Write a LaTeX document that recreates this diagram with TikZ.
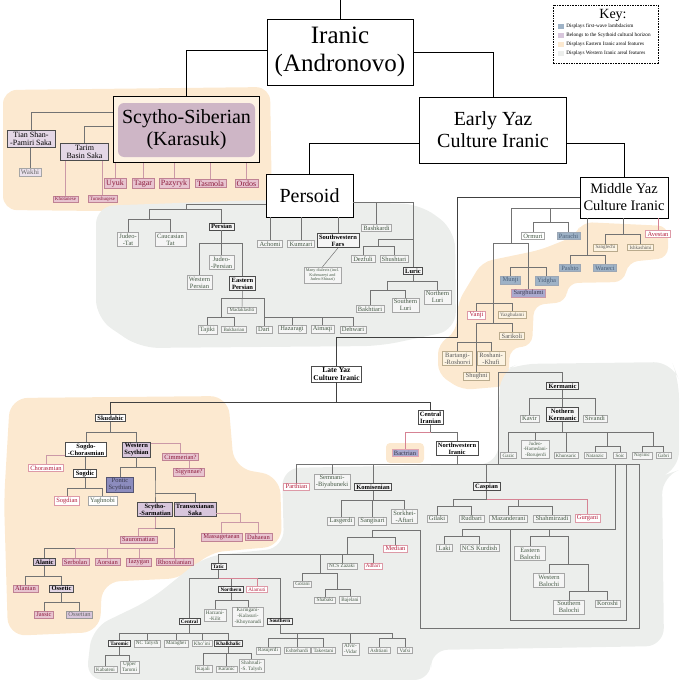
\documentclass[tikz,border=0pt]{standalone}
\usepackage{fontspec}
\setmainfont{Liberation Serif}
\usetikzlibrary{positioning}
\definecolor{peach}{RGB}{252,233,208}
\definecolor{westgray}{RGB}{236,238,236}
\definecolor{mauve}{RGB}{206,182,198}
\definecolor{lilac}{RGB}{216,198,220}
\definecolor{rose}{RGB}{232,196,208}
\definecolor{wine}{RGB}{140,28,60}
\definecolor{crimson}{RGB}{180,30,60}
\definecolor{steel}{RGB}{158,178,198}
\definecolor{steeltext}{RGB}{75,95,120}
\definecolor{cream}{RGB}{252,243,226}
\definecolor{tan}{RGB}{185,170,140}
\definecolor{leafgreen}{RGB}{70,90,70}
\definecolor{indigo}{RGB}{140,140,190}

\begin{document}
\begin{tikzpicture}[x=1pt,y=-1pt,node distance=2pt]
       \tikzstyle{lbox}=[align=center,inner xsep=2pt,inner ysep=1.3pt,line width=0.45pt,font=\fontsize{6.5}{7}\selectfont]
       \tikzstyle{bigbox}=[draw=black,line width=0.9pt,fill=white,align=center,inner sep=0pt]
       \tikzstyle{grp}=[lbox,draw=black!70,line width=0.7pt,fill=black!4,font=\bfseries\fontsize{6.5}{7}\selectfont]
       \tikzstyle{leaf}=[lbox,draw=black!35,fill=black!4,text=leafgreen]
       \tikzstyle{redleaf}=[lbox,draw=crimson!45,fill=white,text=crimson]
       \tikzstyle{pinkleaf}=[lbox,draw=wine!55,fill=rose,text=wine]
       \tikzstyle{blueleaf}=[lbox,draw=steeltext!55,fill=steel,text=steeltext]
       \tikzstyle{creamleaf}=[lbox,draw=tan,fill=cream,text=black!65]
       \tikzstyle{tinytext}=[font=\fontsize{5}{5.5}\selectfont]
       \tikzstyle{smalltext}=[font=\fontsize{5.2}{5.8}\selectfont]
       \tikzstyle{boldsmall}=[font=\bfseries\fontsize{5.2}{5.8}\selectfont]
       \tikzstyle{scyt}=[font=\fontsize{8}{8.5}\selectfont]
       \tikzstyle{main}=[draw=black,line width=0.9pt]
       \tikzstyle{trunk}=[draw=black!75,line width=0.7pt]
       \tikzstyle{link}=[draw=black!55,line width=0.5pt]
       \tikzstyle{slink}=[draw=wine!45,line width=0.5pt]
       \tikzstyle{redlink}=[draw=crimson!55,line width=0.5pt]

       \useasboundingbox (0,0) rectangle (680,680);

       \fill[peach,rounded corners=14pt] (3,90) -- (270,87) -- (272,205) -- (200,212) -- (3,210) -- cycle;
       \fill[westgray,rounded corners=18pt] (96,206) -- (262,200) -- (420,204) -- (455,230) -- (456,330) -- (380,346) -- (140,348) -- (96,318) -- cycle;
       \fill[peach,rounded corners=10pt] (582,222) -- (668,226) -- (668,258) -- (628,262) -- (624,282) -- (568,283) -- (566,302) -- (534,305) -- (532,346) -- (510,348) -- (508,386) -- (462,390) -- (438,374) -- (438,344) -- (456,332) -- (458,302) -- (482,262) -- (540,250) -- (575,236) -- cycle;
       \fill[peach,rounded corners=18pt] (10,398) -- (228,396) -- (234,468) -- (280,476) -- (282,546) -- (205,553) -- (186,578) -- (102,582) -- (100,632) -- (8,636) -- (4,500) -- cycle;
       \fill[westgray,rounded corners=18pt] (282,468) -- (498,464) -- (500,372) -- (518,364) -- (672,362) -- (679,380) -- (679,470) -- (662,476) -- (664,646) -- (430,650) -- (432,680) -- (86,680) -- (92,628) -- (150,600) -- (205,556) -- (284,548) -- cycle;
       \fill[peach,rounded corners=4pt] (386,443) rectangle (424,463);

       \coordinate (root) at (340,0);
       \node[bigbox,font=\fontsize{25}{28}\selectfont,minimum width=146pt,minimum height=66pt] (iranic) at (340,52) {Iranic\\(Andronovo)};
       \node[bigbox,font=\fontsize{20}{22}\selectfont,minimum width=147pt,minimum height=66pt] (early) at (493,130) {Early Yaz\\Culture Iranic};
       \node[bigbox,font=\fontsize{20}{22}\selectfont,minimum width=87pt,minimum height=43pt] (persoid) at (309.5,195.5) {Persoid};
       \node[bigbox,font=\fontsize{14.5}{17}\selectfont,minimum width=88pt,minimum height=41pt] (middle) at (624,197.5) {Middle Yaz\\Culture Iranic};
       \node[draw=black,line width=1pt,fill=peach!60!white,minimum width=146pt,minimum height=66pt] (ssframe) at (186,129) {};
       \node[fill=mauve,rounded corners=6pt,minimum width=137pt,minimum height=54pt,align=center,inner sep=0pt,font=\fontsize{20}{22}\selectfont] (ss) at (186.5,130) {Scytho-Siberian\\(Karasuk)};

       \node[draw=black,line width=1pt,dash pattern=on 1.6pt off 1pt,minimum width=105pt,minimum height=58pt] (key) at (605.5,34) {};
       \node[font=\fontsize{14}{14}\selectfont,inner sep=0pt] (keytitle) at (613,15) {Key:};
       \foreach \kcol/\ktext [count=\k] in {steel/Displays first-wave lambdacism,lilac/Belongs to the Scythoid cultural horizon,peach/Displays Eastern Iranic areal features,westgray/Displays Western Iranic areal features}
       {
         \node[fill=\kcol,minimum width=6pt,minimum height=5pt,inner sep=0pt] (sq\k) at (561,17+9*\k) {};
         \node[font=\fontsize{5.2}{6}\selectfont,inner sep=0pt,right=2pt of sq\k] (kt\k) {\ktext};
       }

       \draw[main] (root) -- (iranic.north);
       \draw[main] ([yshift=2pt]iranic.west) -| (ssframe.north);
       \draw[main] (iranic.east) -| (early.north);
       \draw[main] ([yshift=-13pt]early.west) -| (persoid.north);
       \draw[main] ([yshift=-13pt]early.east) -| (middle.north);

       \node[lbox,draw=black!70,line width=0.7pt,fill=lilac!70,scyt,minimum width=48pt] (tianshan) at (31,139) {Tian Shan-\\-Pamiri Saka};
       \node[lbox,draw=black!70,line width=0.7pt,fill=lilac!70,scyt,minimum width=48pt] (tarim) at (84.5,152) {Tarim\\Basin Saka};
       \node[lbox,draw=black!35,fill=lilac!50,text=black!60,font=\fontsize{7}{7}\selectfont] (wakhi) at (30,172) {Wakhi};
       \node[pinkleaf,tinytext] (khotanese) at (65.5,199) {Khotanese};
       \node[pinkleaf,tinytext] (tumshuqese) at (102.5,199) {Tumshuqese};
       \foreach \nd/\lab/\x in {uyuk/Uyuk/115,tagar/Tagar/143,pazyryk/Pazyryk/174,tasmola/Tasmola/210.5,ordos/Ordos/246.5}
         \node[pinkleaf,scyt] (\nd) at (\x,183.5) {\lab};

       \draw[link] ([yshift=17pt]ssframe.west) -| (tianshan.north);
       \draw[link] ([yshift=3pt]ssframe.west) -| (tarim.north);
       \draw[link] (wakhi.north) -- (wakhi.north |- tianshan.south);
       \foreach \nd in {khotanese,tumshuqese} \draw[slink] (\nd.north) -- (\nd.north |- tarim.south);
       \foreach \nd in {uyuk,tagar,pazyryk,tasmola,ordos} \draw[slink] (\nd.north) -- (\nd.north |- ssframe.south);

       \node[leaf] (judeotat) at (128,239.5) {Judeo-\\-Tat};
       \node[leaf] (cauctat) at (170.5,239.5) {Caucasian\\Tat};
       \node[grp] (persian) at (221.5,226.5) {Persian};
       \node[leaf] (judeopersian) at (221.5,262.5) {Judeo-\\-Persian};
       \node[leaf] (westpersian) at (199.5,282.5) {Western\\Persian};
       \node[grp] (eastpersian) at (242.5,283.5) {Eastern\\Persian};
       \node[leaf,tinytext] (madaklashti) at (242,310) {Madaklashti};
       \node[leaf] (tajiki) at (207.5,329.5) {Tajiki};
       \node[leaf,tinytext] (bukharian) at (234,329.5) {Bukharian};
       \node[leaf] (dari) at (264,329.5) {Dari};
       \node[leaf] (hazaragi) at (292,329.5) {Hazaragi};
       \node[leaf] (aimaqi) at (322.5,329.5) {Aimaqi};
       \node[leaf] (dehwari) at (353,329.5) {Dehwari};
       \node[leaf] (achomi) at (270,244) {Achomi};
       \node[leaf] (kumzari) at (301,244) {Kumzari};
       \node[grp] (swfars) at (338,240.5) {Southwestern\\Fars};
       \node[leaf,font=\fontsize{4.2}{4.8}\selectfont] (dialects) at (322.5,275) {Many dialects (incl.\\Kuhmareyi and\\Judeo-Shirazi)};
       \node[leaf] (bashkardi) at (376.5,228) {Bashkardi};
       \node[leaf] (dezfuli) at (363,259) {Dezfuli};
       \node[leaf] (shushtari) at (394,259) {Shushtari};
       \node[grp] (luric) at (413,271) {Luric};
       \node[leaf] (bakhtiari) at (370,309) {Bakhtiari};
       \node[leaf] (southluri) at (405.5,305) {Southern\\Luri};
       \node[leaf] (northluri) at (437.5,297) {Northern\\Luri};

       \coordinate (pj1) at (186,209);
       \coordinate (pj2) at (149,219);
       \coordinate (pj3) at (221.5,243);
       \coordinate (pj4) at (242.5,298);
       \coordinate (pj5) at (221,317);
       \coordinate (pj6) at (264,317);
       \coordinate (pj7) at (413,202);
       \coordinate (pj8) at (413,239);
       \coordinate (pj9) at (378,246);
       \coordinate (pj10) at (413,281);
       \coordinate (pj11) at (387,290);
       \draw[link] ([yshift=-9pt]persoid.west) -| (pj1) -| (persian.north);
       \draw[link] (pj1) -| (pj2) -| (judeotat.north);
       \draw[link] (pj2) -| (cauctat.north);
       \draw[link] (persian.south) -- (judeopersian.north);
       \draw[link] (pj3) -| (westpersian.north);
       \draw[link] (pj3) -| (eastpersian.north);
       \draw[link] (eastpersian.south) -- (madaklashti.north);
       \draw[link] (pj4) -| (pj5) -| (tajiki.north);
       \draw[link] (pj5) -| (bukharian.north);
       \draw[link] (pj4) -| (dari.north);
       \foreach \nd in {hazaragi,aimaqi,dehwari} \draw[link] (pj6) -| (\nd.north);
       \foreach \nd in {achomi,kumzari,swfars} \draw[link] (\nd.north) -- (\nd.north |- persoid.south);
       \draw[link] (swfars.south) -- (dialects.north);
       \draw[link] (persoid.east |- pj7) -- (pj7) -- (luric.north);
       \draw[link] (bashkardi.north) -- (bashkardi.north |- pj7);
       \draw[link] (pj8) -| (pj9) -| (dezfuli.north);
       \draw[link] (pj9) -| (shushtari.north);
       \draw[link] (luric.south) -- (pj10) -| (northluri.north);
       \draw[link] (pj10) -| (pj11) -| (bakhtiari.north);
       \draw[link] (pj11) -| (southluri.north);

       \node[leaf,fill=white] (ormuri) at (533,236) {Ormuri};
       \node[blueleaf] (parachi) at (568.5,236) {Parachi};
       \node[blueleaf] (pashto) at (570,268) {Pashto};
       \node[blueleaf] (waneci) at (605,268) {Waneci};
       \node[creamleaf,tinytext] (sanglechi) at (605.5,247.5) {Sanglechi};
       \node[creamleaf,tinytext] (ishkashimi) at (640.5,247.5) {Ishkashimi};
       \node[redleaf] (avestan) at (658,234) {Avestan};
       \node[blueleaf] (munji) at (510.5,280.5) {Munji};
       \node[blueleaf] (yidgha) at (546.5,280.5) {Yidgha};
       \node[lbox,draw=wine!45,fill=indigo!75,text=indigo!45!black] (sarghulami) at (528.5,293) {Sarghulami};
       \node[redleaf] (vanji) at (476.5,315) {Vanji};
       \node[creamleaf,tinytext] (yazghulami) at (512,315) {Yazghulami};
       \node[creamleaf] (sarikoli) at (512,336) {Sarikoli};
       \node[creamleaf] (bartangi) at (457.5,358.5) {Bartangi-\\-Roshorvi};
       \node[creamleaf] (roshani) at (491,358.5) {Roshani-\\-Khufi};
       \node[creamleaf] (shughni) at (476.5,376) {Shughni};

       \coordinate (mj0) at ([yshift=-11pt]middle.west);
       \coordinate (mj1) at (511,243);
       \coordinate (mj2) at (493,323);
       \coordinate (mj3) at (528.5,267);
       \coordinate (mj4) at (493,303);
       \coordinate (mj5) at (476.5,342);
       \coordinate (mj6) at (550,222);
       \coordinate (mj7) at (587,255);
       \coordinate (mj8) at (623,234);
       \draw[link] (mj0) -| (mj1) -| (mj2) -| (sarikoli.north);
       \draw[link] (mj1) -| (sarghulami.north);
       \draw[link] (mj3) -| (munji.north);
       \draw[link] (mj3) -| (yidgha.north);
       \draw[link] (mj4) -| (vanji.north);
       \draw[link] (mj4) -| (yazghulami.north);
       \draw[link] (mj2) -| (shughni.north);
       \draw[link] (mj5) -| (bartangi.north);
       \draw[link] (mj5) -| (roshani.north);
       \draw[link] (mj6 |- mj0) -- (mj6) -| (ormuri.north);
       \draw[link] (mj6) -| (parachi.north);
       \draw[link] (mj7 |- middle.south) -- (mj7) -| (pashto.north);
       \draw[link] (mj7) -| (waneci.north);
       \draw[link] (mj8 |- middle.south) -- (mj8) -| (sanglechi.north);
       \draw[link] (mj8) -| (ishkashimi.north);
       \draw[redlink] (avestan.north) -- (avestan.north |- middle.south);

       \node[grp,fill=white,font=\bfseries\fontsize{7.5}{8.5}\selectfont] (late) at (336.5,374) {Late Yaz\\Culture Iranic};
       \node[grp,fill=white] (skudahic) at (110.5,418) {Skudahic};
       \node[grp,fill=white] (centiran) at (430.5,417.5) {Central\\Iranian};
       \coordinate (bend) at (457,337);
       \coordinate (lj1) at (336.5,402);
       \draw[trunk] (middle.west) -| (bend) -| (late.north);
       \draw[trunk] (late.south) -- (lj1) -| (skudahic.north);
       \draw[trunk] (lj1) -| (centiran.north);

       \node[grp,fill=white] (sogdochor) at (86,449.5) {Sogdo-\\-Chorasmian};
       \node[grp,fill=lilac] (westscyth) at (136.5,449.5) {Western\\Scythian};
       \node[redleaf] (chorasmian) at (46,468) {Chorasmian};
       \node[grp,fill=white] (sogdic) at (85,473.5) {Sogdic};
       \node[redleaf] (sogdian) at (67,500.5) {Sogdian};
       \node[leaf,fill=white] (yaghnobi) at (102.5,500.5) {Yaghnobi};
       \node[pinkleaf] (cimmerian) at (180.5,457) {Cimmerian?};
       \node[pinkleaf] (sigynnae) at (189,472.5) {Sigynnae?};
       \node[lbox,draw=indigo!60!black,line width=1.1pt,fill=indigo,text=indigo!40!black] (pontic) at (120,485) {Pontic\\Scythian};
       \node[grp,fill=lilac] (scythosarm) at (155,509.5) {Scytho-\\-Sarmatian};
       \node[grp,fill=lilac] (transox) at (195,509.5) {Transoxianan\\Saka};
       \node[pinkleaf] (massagetaean) at (221.5,537) {Massagetaean};
       \node[pinkleaf] (dahaean) at (258.5,537) {Dahaean};
       \node[pinkleaf] (sauromatian) at (138.5,539.5) {Sauromatian};
       \node[grp,fill=lilac] (alanic) at (44.5,562) {Alanic};
       \foreach \nd/\lab/\x in {serbolan/Serbolan/75.5,aorsian/Aorsian/107.5,iazygan/Iazygan/139,rhoxolanian/Rhoxolanian/174.5}
         \node[pinkleaf] (\nd) at (\x,562) {\lab};
       \node[pinkleaf] (alanian) at (25.5,588.5) {Alanian};
       \node[grp,fill=lilac!70] (ossetic) at (61.5,588.5) {Ossetic};
       \node[pinkleaf] (jassic) at (44,614.5) {Jassic};
       \node[lbox,draw=black!40,fill=lilac,text=black!60] (ossetian) at (79.5,614.5) {Ossetian};

       \coordinate (sj1) at (110.5,432);
       \coordinate (sj2) at (85,488);
       \coordinate (sj3) at (136.5,467);
       \coordinate (sj4) at (155,493);
       \coordinate (sj5) at (240,522);
       \coordinate (sj6) at (155,528);
       \coordinate (sj7) at (174.5,548);
       \coordinate (sj8) at (44.5,576);
       \coordinate (sj9) at (61.5,602);
       \draw[link] (skudahic.south) -- (sj1) -| (sogdochor.north);
       \draw[link] (sj1) -| (westscyth.north);
       \draw[slink] ([yshift=-5.5pt]sogdochor.west) -| (chorasmian.north);
       \draw[link] (sogdic.north) -- (sogdic.north |- sogdochor.south);
       \draw[link] (sogdic.south) -- (sj2) -| (sogdian.north);
       \draw[link] (sj2) -| (yaghnobi.north);
       \draw[slink] ([yshift=6.5pt]westscyth.east) -| (cimmerian.north);
       \draw[slink] (sigynnae.north) -- (sigynnae.north |- cimmerian.south);
       \draw[link] (westscyth.south) -- (sj3) -| (pontic.north);
       \draw[link] (sj3) -| (sj4) -- (scythosarm.north);
       \draw[link] (sj4) -| (transox.north);
       \draw[slink] ([yshift=-3.5pt]transox.east) -| (sj5) -| (massagetaean.north);
       \draw[slink] (sj5) -| (dahaean.north);
       \draw[slink] (scythosarm.south) -- (sj6) -| (sauromatian.north);
       \draw[link] (sj6) -| (sj7) -| (alanic.north);
       \foreach \nd in {serbolan,aorsian,iazygan,rhoxolanian} \draw[slink] (sj7) -| (\nd.north);
       \draw[link] (alanic.south) -- (sj8) -| (alanian.north);
       \draw[link] (sj8) -| (ossetic.north);
       \draw[link] (ossetic.south) -- (sj9) -| (jassic.north);
       \draw[link] (sj9) -| (ossetian.north);

       \node[lbox,draw=crimson!40,fill=indigo!75,text=indigo!40!black] (bactrian) at (405,453) {Bactrian};
       \node[grp,fill=white] (nwiranic) at (457,448.5) {Northwestern\\Iranic};
       \coordinate (cj1) at (430.5,432);
       \draw[link] (centiran.south) -- (cj1) -| (nwiranic.north);
       \draw[redlink] (cj1) -| (bactrian.north);

       \node[redleaf] (parthian) at (296.5,486.5) {Parthian};
       \node[leaf] (semnani) at (332,481.5) {Semnani-\\-Biyabuneki};
       \node[grp] (komisenian) at (373,487) {Komisenian};
       \node[grp] (caspian) at (486.5,486.5) {Caspian};
       \node[grp] (kermanic) at (562.5,386) {Kermanic};
       \node[leaf] (kavir) at (529.5,418.5) {Kavir};
       \node[grp] (nkermanic) at (562.5,414.5) {Nothern\\Kermanic};
       \node[leaf] (sivandi) at (595,418.5) {Sivandi};
       \node[leaf,tinytext] (gazic) at (508.5,455.5) {Gazic};
       \node[leaf,tinytext] (judeohamedani) at (535.5,449.5) {Judeo-\\-Hamedani-\\-Borujerdi};
       \node[leaf,tinytext] (khunsaric) at (566,455.5) {Khunsaric};
       \node[leaf,tinytext] (natanzic) at (595,455.5) {Natanzic};
       \node[leaf,tinytext] (soic) at (620,455.5) {Soic};
       \node[leaf,tinytext] (nayinic) at (642,455.5) {Nayinic};
       \node[leaf,tinytext] (gabri) at (663.5,455.5) {Gabri};

       \coordinate (nj1) at (457,464);
       \coordinate (nj2) at (498,464);
       \coordinate (nj3) at (498,372);
       \coordinate (nj4) at (639,464);
       \coordinate (kj1) at (562.5,398);
       \coordinate (kj2) at (562.5,432);
       \coordinate (kj3) at (607,446);
       \coordinate (kj4) at (653,446);
       \draw[link] (nwiranic.south) -- (nj1) -| (parthian.north);
       \foreach \nd in {semnani,komisenian,caspian} \draw[link] (nj1) -| (\nd.north);
       \draw[link] (nj1) -- (nj2) -- (nj3) -| (kermanic.north);
       \draw[link] (nj2) -- (nj4);
       \draw[link] (kermanic.south) -- (nkermanic.north);
       \draw[link] (kj1) -| (kavir.north);
       \draw[link] (kj1) -| (sivandi.north);
       \draw[link] (nkermanic.south) -- (kj2) -| (gazic.north);
       \foreach \nd in {judeohamedani,khunsaric} \draw[link] (kj2) -| (\nd.north);
       \draw[link] (kj2) -| (kj3) -| (natanzic.north);
       \draw[link] (kj3) -| (soic.north);
       \draw[link] (kj2) -| (kj4) -| (nayinic.north);
       \draw[link] (kj4) -| (gabri.north);

       \node[leaf] (lasgerdi) at (341,521) {Lasgerdi};
       \node[leaf] (sangisari) at (372.5,521) {Sangisari};
       \node[leaf] (sorkhei) at (404.5,516.5) {Sorkhei-\\-Aftari};
       \node[leaf] (gilaki) at (437,518.5) {Gilaki};
       \node[leaf] (rudbari) at (471.5,518.5) {Rudbari};
       \node[leaf] (mazanderani) at (508.5,518.5) {Mazanderani};
       \node[leaf] (shahmirzadi) at (552,518.5) {Shahmirzadi};
       \node[redleaf] (gurgani) at (587.5,518.5) {Gurgani};
       \coordinate (komj) at (373,500);
       \coordinate (caj1) at (486.5,499);
       \coordinate (caj2) at (453,506);
       \coordinate (caj3) at (518,506);
       \draw[link] (komisenian.south) -- (komj) -| (lasgerdi.north);
       \draw[link] (komj) -| (sangisari.north);
       \draw[link] (komj) -| (sorkhei.north);
       \draw[link] (caspian.south) -- (caj1) -| (caj2) -| (gilaki.north);
       \draw[link] (caj2) -| (rudbari.north);
       \draw[link] (caj1) -| (caj3) -| (mazanderani.north);
       \draw[link] (caj3) -| (shahmirzadi.north);
       \draw[redlink] (caj1) -| (gurgani.north);

       \node[leaf] (laki) at (444.5,548) {Laki};
       \node[leaf] (ncskurdish) at (479.5,548) {NCS Kurdish};
       \node[leaf,minimum width=31pt] (eastbal) at (530,553.5) {Eastern\\Balochi};
       \node[leaf,minimum width=31pt] (westbal) at (549,580.5) {Western\\Balochi};
       \node[leaf,minimum width=31pt] (southbal) at (569,607) {Southern\\Balochi};
       \node[leaf] (koroshi) at (607.5,603.5) {Koroshi};
       \coordinate (bj1) at (615,464);
       \coordinate (bj2) at (615,529);
       \coordinate (bj3) at (462,536);
       \coordinate (bj4) at (549,536);
       \coordinate (bj5) at (568,564);
       \coordinate (bj6) at (588,591);
       \coordinate (bj7) at (626,464);
       \coordinate (bj8) at (626,620);
       \coordinate (bj9) at (510,620);
       \coordinate (bj10) at (510,529);
       \draw[link] (bj1) -- (bj2) -| (bj3) -| (laki.north);
       \draw[link] (bj3) -| (ncskurdish.north);
       \draw[link] (bj4 |- bj2) -- (bj4) -| (eastbal.north);
       \draw[link] (bj4) -| (bj5) -| (westbal.north);
       \draw[link] (bj5) -| (bj6) -| (southbal.north);
       \draw[link] (bj6) -| (koroshi.north);
       \draw[link] (bj7) -- (bj8) -- (bj9) -- (bj10);

       \node[redleaf] (median) at (395.5,548.5) {Median};
       \node[grp,boldsmall] (tatic) at (218.5,566.5) {Tatic};
       \node[leaf,smalltext] (ncszazaki) at (342,566) {NCS Zazaki};
       \node[redleaf,smalltext] (adhari) at (373,566) {Adhari};
       \node[leaf,smalltext] (gorani) at (302.5,584) {Gorani};
       \node[leaf,smalltext] (shabaki) at (325,600) {Shabaki};
       \node[leaf,smalltext] (bajelani) at (350,600) {Bajelani};
       \coordinate (tj0) at (639,628);
       \coordinate (tj1) at (420,628);
       \coordinate (tj2) at (420,530);
       \coordinate (tj3) at (372,537);
       \coordinate (tj4) at (347,554);
       \coordinate (tj5) at (320,573);
       \coordinate (tj6) at (337,589);
       \draw[link] (nj4) -- (tj0) -- (tj1) -- (tj2) -| (tj3) -| (median.north);
       \draw[link] (tj3) -| (tj4) -| (tatic.north);
       \foreach \nd in {ncszazaki,adhari} \draw[link] (tj4) -| (\nd.north);
       \draw[link] (tj4) -| (tj5) -| (gorani.north);
       \draw[link] (tj5) -| (tj6) -| (shabaki.north);
       \draw[link] (tj6) -| (bajelani.north);

       \node[grp,boldsmall] (northern) at (231,589.5) {Northern};
       \node[redleaf,smalltext] (alamuti) at (257,589.5) {Alamuti};
       \node[grp,boldsmall] (central) at (189.5,621.5) {Central};
       \node[grp,boldsmall] (southern) at (280,621) {Southern};
       \node[leaf,smalltext] (harzani) at (215,615.5) {Harzani-\\-Kilit};
       \node[leaf,smalltext] (karingani) at (248,616.5) {Karingani-\\-Kalasuri-\\-Khoynarudi};
       \coordinate (uj1) at (218.5,578);
       \coordinate (uj2) at (231,600);
       \draw[link] (tatic.south) -- (uj1) -| (central.north);
       \foreach \nd in {northern,southern} \draw[link] (uj1) -| (\nd.north);
       \draw[redlink] (uj1) -| (alamuti.north);
       \draw[link] (northern.south) -- (uj2) -| (harzani.north);
       \draw[link] (uj2) -| (karingani.north);

       \node[grp,boldsmall] (taromic) at (119.5,643.5) {Taromic};
       \node[leaf,smalltext] (nctalysh) at (147,643.5) {NC Talysh};
       \node[leaf,smalltext] (maraghei) at (176,643.5) {Maraghei};
       \node[leaf,smalltext] (khoini) at (202,643.5) {Kho'ini};
       \node[grp,boldsmall] (khalkhalic) at (228.5,643.5) {Khalkhalic};
       \node[leaf,smalltext] (kabateni) at (105.5,669.5) {Kabateni};
       \node[leaf,smalltext] (uppertaromi) at (129.5,667) {Upper\\Taromi};
       \node[leaf,smalltext] (kajali) at (203.5,669) {Kajali};
       \node[leaf,smalltext] (karanic) at (226.5,669) {Karanic};
       \node[leaf,smalltext] (shahrudi) at (251.5,666) {Shahrudi-\\-S. Talysh};
       \coordinate (uj3) at (189.5,633);
       \coordinate (uj4) at (119.5,655);
       \coordinate (uj5) at (228.5,653);
       \draw[link] (central.south) -- (uj3) -| (taromic.north);
       \foreach \nd in {nctalysh,maraghei,khoini,khalkhalic} \draw[link] (uj3) -| (\nd.north);
       \draw[link] (taromic.south) -- (uj4) -| (kabateni.north);
       \draw[link] (uj4) -| (uppertaromi.north);
       \draw[link] (khalkhalic.south) -- (uj5) -| (kajali.north);
       \foreach \nd in {karanic,shahrudi} \draw[link] (uj5) -| (\nd.north);

       \node[leaf,smalltext] (rasujerdi) at (268,650.5) {Rasujerdi};
       \node[leaf,smalltext] (eshtehardi) at (297,650.5) {Eshtehardi};
       \node[leaf,smalltext] (takestani) at (323.5,650.5) {Takestani};
       \node[leaf,smalltext] (alvir) at (350.5,649) {Alvir-\\-Vidar};
       \node[leaf,smalltext] (ashtiani) at (379,650.5) {Ashtiani};
       \node[leaf,smalltext] (vafsi) at (405,650.5) {Vafsi};
       \coordinate (vj1) at (280,633);
       \coordinate (vj2) at (297,638);
       \coordinate (vj3) at (392,638);
       \draw[link] (southern.south) -- (vj1) -| (vj2) -| (rasujerdi.north);
       \foreach \nd in {eshtehardi,takestani} \draw[link] (vj2) -| (\nd.north);
       \draw[link] (vj1) -| (alvir.north);
       \draw[link] (vj1) -| (vj3) -| (ashtiani.north);
       \draw[link] (vj3) -| (vafsi.north);
\end{tikzpicture}
\end{document}
